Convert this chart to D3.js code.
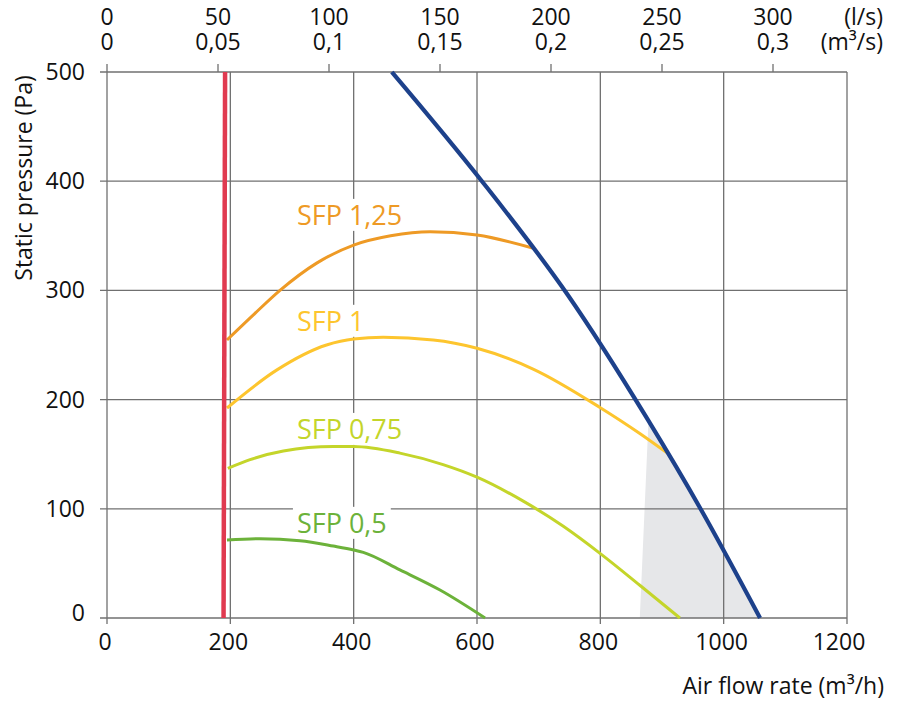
<!DOCTYPE html>
<html><head><meta charset="utf-8">
<script src="https://cdn.jsdelivr.net/npm/d3@7/dist/d3.min.js"></script>
<style>
html,body{margin:0;padding:0;background:#fff;}
text{font-family:"Open Sans",sans-serif;}
</style></head>
<body><svg id="c" width="897" height="708"></svg>
<script>
// ---- data ----
const xTicks = [0, 200, 400, 600, 800, 1000, 1200];
const yTicks = [0, 100, 200, 300, 400, 500];
const topLs = [0, 50, 100, 150, 200, 250, 300];
const topM3s = ["0", "0,05", "0,1", "0,15", "0,2", "0,25", "0,3"];

const redQ = [189, 191.5];
const redP = [0, 500];

const blueQ = [462, 608, 747, 876, 962, 1059];
const blueP = [500, 400, 296, 182.5, 100.5, 0];

const sfp125Q = [194.6, 240, 280.5, 340, 400, 460, 524, 600, 690];
const sfp125P = [254.6, 279, 300, 325, 341.5, 350, 353.8, 350.7, 338.8];

const sfp1Q = [194.6, 275, 356, 400, 448, 529, 600, 691, 800, 864, 910];
const sfp1P = [192.3, 227, 250, 255.5, 257, 254.6, 247, 228, 192.6, 169, 150.5];

const sfp075Q = [196, 232, 286, 367, 400, 475, 545, 600, 675, 740, 800, 864, 929];
const sfp075P = [137, 145, 153, 157, 157, 151, 140.5, 129, 107, 84, 59, 30, 0];

const sfp05Q = [194.6, 248, 313, 367, 400, 415.6, 475, 540, 613];
const sfp05P = [71.4, 72.6, 70.8, 65.9, 62.3, 60.1, 44, 25.6, 0];

const shadeQ = [864, 878];
const shadeP = [0, 180];

const sfpNames = ["SFP 1,25", "SFP 1", "SFP 0,75", "SFP 0,5"];
const sfpLabelQ = [308, 308, 308, 308];
const sfpLabelP = [360, 263, 164, 78];

// ---- chart ----
const svg = d3.select("#c");
const L = 107, R = 847, T = 72, B = 618;
const x = d3.scaleLinear().domain([0, 1200]).range([L, R]);
const y = d3.scaleLinear().domain([0, 500]).range([B, T]);
const gridC = "#707070";
const txtC = "#111";

const zip = (a, b) => a.map((v, i) => [v, b[i]]);
const line = d3.line().x(d => x(d[0])).y(d => y(d[1]));
const smooth = d3.line().x(d => x(d[0])).y(d => y(d[1])).curve(d3.curveMonotoneX);

// shaded region: left edge, then along the blue curve down to the axis
svg.append("path").attr("d", line(zip(shadeQ, shadeP)) +
    smooth(zip(blueQ, blueP).filter(d => d[0] >= 876)).replace(/^M/, "L") + "Z")
  .attr("fill", "#e6e7e9").attr("stroke", "none");

// grid
const g = svg.append("g").attr("stroke", gridC).attr("stroke-width", 1.3);
xTicks.forEach(v => g.append("line").attr("x1", x(v)).attr("x2", x(v)).attr("y1", T).attr("y2", B + 6));
yTicks.forEach(v => g.append("line").attr("x1", L - 7).attr("x2", R).attr("y1", y(v)).attr("y2", y(v)));
topLs.forEach(v => g.append("line").attr("x1", x(v * 3.6)).attr("x2", x(v * 3.6)).attr("y1", T - 8).attr("y2", T));

// bottom tick labels
svg.append("g").selectAll("text").data(xTicks).join("text")
  .attr("x", d => x(d) - (d === 1200 ? 8 : 2)).attr("y", 650)
  .attr("text-anchor", "middle").attr("font-size", 23).attr("fill", txtC)
  .text(d => d);

// left tick labels
svg.append("g").selectAll("text").data(yTicks).join("text")
  .attr("x", 85).attr("y", d => y(d) + (d === 0 ? -5 : 0))
  .attr("dy", "0.35em")
  .attr("text-anchor", "end").attr("font-size", 23).attr("fill", txtC)
  .text(d => d);

// top tick labels
svg.append("g").selectAll("text").data(topLs).join("text")
  .attr("x", d => x(d * 3.6)).attr("y", 25)
  .attr("text-anchor", "middle").attr("font-size", 23).attr("fill", txtC)
  .text(d => d);
svg.append("g").selectAll("text").data(topM3s).join("text")
  .attr("x", (d, i) => x(topLs[i] * 3.6)).attr("y", 50)
  .attr("text-anchor", "middle").attr("font-size", 23).attr("fill", txtC)
  .text(d => d);
svg.append("text").attr("x", 883).attr("y", 25).attr("text-anchor", "end")
  .attr("font-size", 23).attr("fill", txtC).text("(l/s)");
svg.append("text").attr("x", 883).attr("y", 50).attr("text-anchor", "end")
  .attr("font-size", 23).attr("fill", txtC).text("(m³/s)");

// axis titles
svg.append("text").attr("transform", "translate(32,178) rotate(-90)")
  .attr("text-anchor", "middle").attr("font-size", 23).attr("fill", txtC)
  .text("Static pressure (Pa)");
svg.append("text").attr("x", 884).attr("y", 694).attr("text-anchor", "end")
  .attr("font-size", 23).attr("fill", txtC).text("Air flow rate (m³/h)");

// SFP labels with white background
const sfpColors = ["#ee9a25", "#fdc52e", "#c4d52a", "#6cb23a"];
sfpNames.forEach((name, i) => {
  const t = svg.append("text").attr("x", x(sfpLabelQ[i])).attr("y", y(sfpLabelP[i]))
    .attr("font-size", 27).attr("fill", sfpColors[i]).text(name);
  const bb = t.node().getBBox();
  svg.insert("rect", () => t.node())
    .attr("x", bb.x - 4).attr("y", bb.y + 3).attr("width", bb.width + 8).attr("height", bb.height - 5)
    .attr("fill", "#fff");
});

// curves
const curves = [
  [sfp05Q, sfp05P, sfpColors[3]],
  [sfp075Q, sfp075P, sfpColors[2]],
  [sfp1Q, sfp1P, sfpColors[1]],
  [sfp125Q, sfp125P, sfpColors[0]],
];
curves.forEach(([q, p, c]) => {
  svg.append("path").attr("d", smooth(zip(q, p))).attr("fill", "none")
    .attr("stroke", c).attr("stroke-width", 3);
});
svg.append("path").attr("d", smooth(zip(blueQ, blueP))).attr("fill", "none")
  .attr("stroke", "#1d418b").attr("stroke-width", 4.2);
svg.append("path").attr("d", line(zip(redQ, redP))).attr("fill", "none")
  .attr("stroke", "#e03a50").attr("stroke-width", 4.5);
</script></body></html>
